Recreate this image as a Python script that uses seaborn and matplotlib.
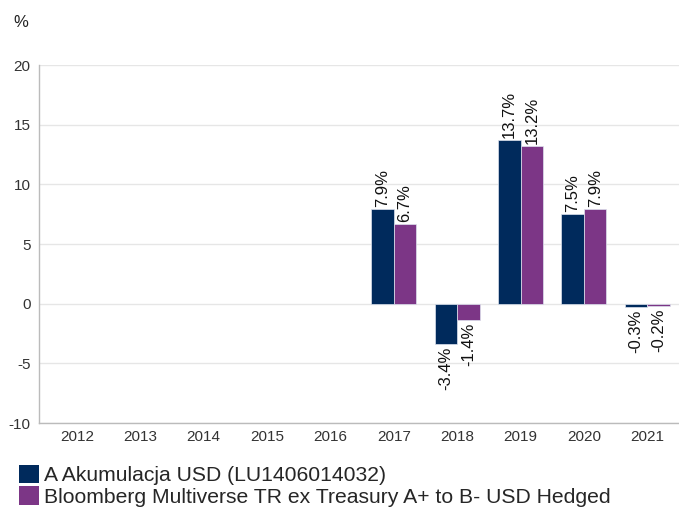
import pandas as pd
import numpy as np
import matplotlib
matplotlib.use('Agg')
import matplotlib.pyplot as plt
import seaborn as sns
from matplotlib.patches import Patch

years = ['2012', '2013', '2014', '2015', '2016', '2017', '2018', '2019', '2020', '2021']
fund = [np.nan, np.nan, np.nan, np.nan, np.nan, 7.9, -3.4, 13.7, 7.5, -0.3]
bench = [np.nan, np.nan, np.nan, np.nan, np.nan, 6.7, -1.4, 13.2, 7.9, -0.2]
series_names = ['A Akumulacja USD (LU1406014032)',
                'Bloomberg Multiverse TR ex Treasury A+ to B- USD Hedged']
colors = ['#002A5C', '#7C3686']

df = pd.DataFrame({
    'year': years * 2,
    'value': fund + bench,
    'series': [series_names[0]] * len(years) + [series_names[1]] * len(years),
})

sns.set_theme(style='white')
plt.rcParams['font.family'] = ['Liberation Sans', 'DejaVu Sans']
plt.rcParams['axes.unicode_minus'] = False

fig = plt.figure(figsize=(6.79, 5.08), dpi=100)
ax = fig.add_axes([0.0574, 0.167, 0.9426, 0.705])

sns.barplot(data=df, x='year', y='value', hue='series', order=years,
            hue_order=series_names, palette=colors, width=0.71, saturation=1,
            edgecolor='#dde3ee', linewidth=0.5, ax=ax, legend=False)

for cont in ax.containers:
    labels = ['' if np.isnan(b.get_height()) else f'{b.get_height():.1f}%' for b in cont]
    ax.bar_label(cont, labels=labels, rotation=90, padding=1.5, fontsize=12, color='#111111')

ax.set_ylim(-10, 20)
ax.set_yticks([-10, -5, 0, 5, 10, 15, 20])
ax.set_xlim(-0.6, 9.5)
ax.set_xlabel('')
ax.set_ylabel('')
ax.yaxis.grid(True, color='#e6e6e6', linewidth=1)
ax.set_axisbelow(True)
for s in ['top', 'right']:
    ax.spines[s].set_visible(False)
for s in ['left', 'bottom']:
    ax.spines[s].set_color('#bbbbbb')
    ax.spines[s].set_linewidth(1)
ax.tick_params(axis='both', labelsize=11, labelcolor='#333333', length=0)
ax.tick_params(axis='y', pad=6)
ax.tick_params(axis='x', pad=5)

fig.text(0.019, 0.955, '%', fontsize=12, color='#222222', va='center')

handles = [Patch(facecolor=c, edgecolor='none') for c in colors]
fig.legend(handles, series_names, loc='lower left', bbox_to_anchor=(0.015, -0.014),
           frameon=False, fontsize=15.2, handlelength=0.95, handleheight=0.95,
           handletextpad=0.25, labelspacing=0.05, borderaxespad=0)

fig.savefig('out.png', dpi=100)
